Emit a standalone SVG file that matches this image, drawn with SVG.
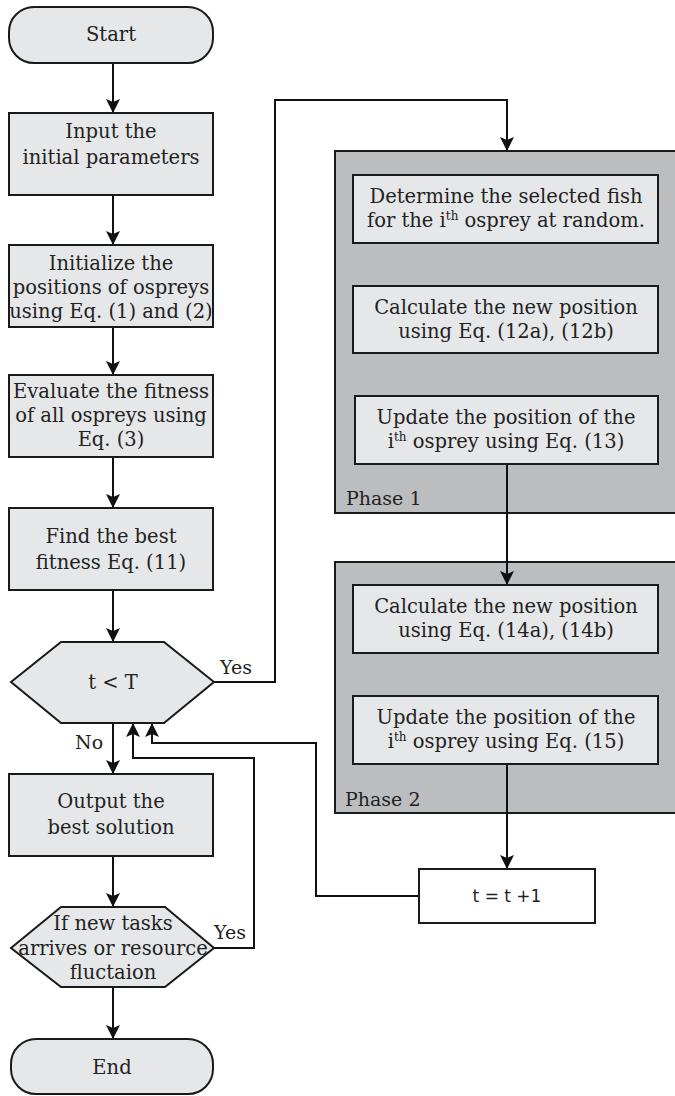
<svg xmlns="http://www.w3.org/2000/svg" width="675" height="1096" viewBox="0 0 675 1096">
<defs>
<marker id="ah" viewBox="0 0 14 14" refX="14" refY="7" markerWidth="14" markerHeight="14" markerUnits="userSpaceOnUse" orient="auto">
<path d="M0,0 L14,7 L0,14 L3,7 z" fill="#111"/>
</marker>
<style>
.box{fill:#e6e7e8;stroke:#1a1a1a;stroke-width:2}
.phase{fill:#bcbdbf;stroke:#1a1a1a;stroke-width:2}
.wbox{fill:#fff;stroke:#1a1a1a;stroke-width:2}
.t{font-family:"DejaVu Serif","Liberation Serif",serif;font-size:19.5px;fill:#222;text-anchor:middle}
.lbl{font-family:"DejaVu Serif","Liberation Serif",serif;font-size:19px;fill:#222}
.s{font-family:"DejaVu Sans","Liberation Sans",sans-serif;font-size:17px;fill:#222;text-anchor:middle}
.sup{font-size:12px}
.c{fill:none;stroke:#111;stroke-width:2}
.ca{fill:none;stroke:#111;stroke-width:2;marker-end:url(#ah)}
</style>
</defs>
<rect width="675" height="1096" fill="#fff"/>

<g id="phase1">
<rect class="phase" x="335" y="151" width="345" height="362"/>
<text class="lbl" x="346" y="505">Phase 1</text>
</g>
<g id="phase2">
<rect class="phase" x="335" y="562" width="345" height="251"/>
<text class="lbl" x="345" y="806">Phase 2</text>
</g>

<g id="connectors">
<path class="ca" d="M113,63 V113"/>
<path class="ca" d="M113,195 V245"/>
<path class="ca" d="M113,327 V375"/>
<path class="ca" d="M113,457 V508"/>
<path class="ca" d="M113,590 V642"/>
<path class="ca" d="M113,723 V774"/>
<path class="ca" d="M113,856 V907"/>
<path class="ca" d="M113,987 V1039"/>
<path class="ca" d="M214,682 H275 V100 H507 V151"/>
<path class="ca" d="M507,464 V585"/>
<path class="ca" d="M507,764 V869"/>
<path class="ca" d="M419,896 H316 V743 H152 V723"/>
<path class="ca" d="M214,948 H254 V758 H133 V723"/>
<text class="lbl" x="220" y="674">Yes</text>
<text class="lbl" x="75" y="749">No</text>
<text class="lbl" x="214" y="939">Yes</text>
</g>

<g id="start">
<rect class="box" x="9" y="7" width="204" height="56" rx="25"/>
<text class="t" x="111" y="41">Start</text>
</g>
<g id="input">
<rect class="box" x="9" y="113" width="204" height="82"/>
<text class="t" x="111" y="138">Input the</text>
<text class="t" x="111" y="164">initial parameters</text>
</g>
<g id="init">
<rect class="box" x="9" y="245" width="204" height="82"/>
<text class="t" x="111" y="270">Initialize the</text>
<text class="t" x="111" y="294">positions of ospreys</text>
<text class="t" x="111" y="318">using Eq. (1) and (2)</text>
</g>
<g id="eval">
<rect class="box" x="9" y="375" width="204" height="82"/>
<text class="t" x="111" y="398">Evaluate the fitness</text>
<text class="t" x="111" y="422">of all ospreys using</text>
<text class="t" x="111" y="446">Eq. (3)</text>
</g>
<g id="find">
<rect class="box" x="9" y="508" width="204" height="82"/>
<text class="t" x="111" y="543">Find the best</text>
<text class="t" x="111" y="569">fitness Eq. (11)</text>
</g>
<g id="cond1">
<polygon class="box" points="11,682 61,642 164,642 214,682 164,723 61,723"/>
<text class="t" x="113" y="689">t &lt; T</text>
</g>
<g id="output">
<rect class="box" x="9" y="774" width="204" height="82"/>
<text class="t" x="111" y="808">Output the</text>
<text class="t" x="111" y="834">best solution</text>
</g>
<g id="cond2">
<polygon class="box" points="11,948 61,907 165,907 214,948 165,987 61,987"/>
<text class="t" x="113" y="930">If new tasks</text>
<text class="t" x="113" y="955">arrives or resource</text>
<text class="t" x="113" y="979">fluctaion</text>
</g>
<g id="end">
<rect class="box" x="11" y="1039" width="202" height="55" rx="25"/>
<text class="t" x="112" y="1074">End</text>
</g>

<g id="p1a">
<rect class="box" x="353" y="175" width="305" height="68"/>
<text class="t" x="506" y="203">Determine the selected fish</text>
<text class="t" x="506" y="227">for the i<tspan class="sup" dy="-7">th</tspan><tspan dy="7"> osprey at random.</tspan></text>
</g>
<g id="p1b">
<rect class="box" x="353" y="286" width="305" height="67"/>
<text class="t" x="506" y="314">Calculate the new position</text>
<text class="t" x="506" y="338">using Eq. (12a), (12b)</text>
</g>
<g id="p1c">
<rect class="box" x="355" y="396" width="303" height="68"/>
<text class="t" x="506" y="424">Update the position of the</text>
<text class="t" x="506" y="448">i<tspan class="sup" dy="-7">th</tspan><tspan dy="7"> osprey using Eq. (13)</tspan></text>
</g>
<g id="p2a">
<rect class="box" x="353" y="585" width="305" height="68"/>
<text class="t" x="506" y="613">Calculate the new position</text>
<text class="t" x="506" y="637">using Eq. (14a), (14b)</text>
</g>
<g id="p2b">
<rect class="box" x="353" y="696" width="305" height="68"/>
<text class="t" x="506" y="724">Update the position of the</text>
<text class="t" x="506" y="748">i<tspan class="sup" dy="-7">th</tspan><tspan dy="7"> osprey using Eq. (15)</tspan></text>
</g>
<g id="incr">
<rect class="wbox" x="419" y="869" width="176" height="54"/>
<text class="s" x="507" y="902">t = t +1</text>
</g>
</svg>
